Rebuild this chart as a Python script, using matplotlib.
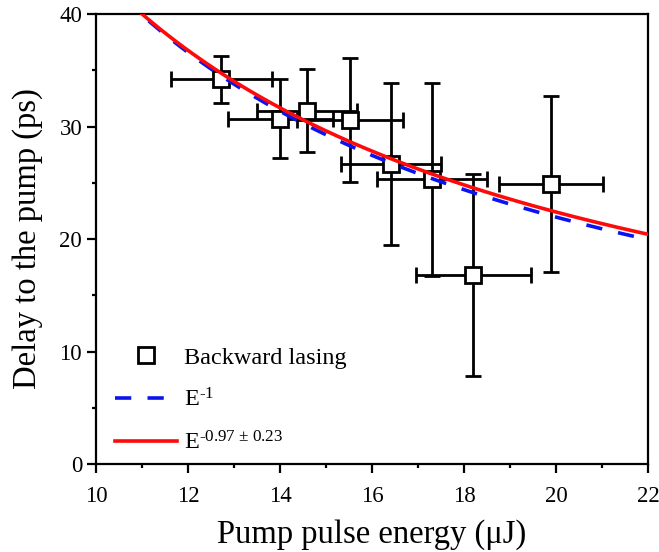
import numpy as np
import matplotlib
matplotlib.use("Agg")
import matplotlib.pyplot as plt
from matplotlib.lines import Line2D

# Data
energy = [12.72, 14.01, 14.58, 15.52, 16.41, 17.30, 18.20, 19.89]
delay = [34.2, 30.7, 31.4, 30.6, 26.7, 25.3, 16.8, 24.9]
energy_err = [1.10, 1.14, 1.09, 1.16, 1.09, 1.20, 1.25, 1.14]
delay_err = [2.1, 3.5, 3.7, 5.5, 7.2, 8.6, 9.0, 7.8]

# Fit parameters
amp_inv = 439.0
amp_fit = 409.5
exp_fit = -0.97

plt.rcParams['font.family'] = ['Liberation Serif', 'DejaVu Serif']
plt.rcParams['mathtext.fontset'] = 'custom'
plt.rcParams['mathtext.rm'] = 'Liberation Serif'
plt.rcParams['mathtext.it'] = 'Liberation Serif'

fig = plt.figure(figsize=(6.59, 5.52), dpi=100)
ax = fig.add_axes([0.1457, 0.1594, 0.8376, 0.8152])

ax.errorbar(energy, delay, xerr=energy_err, yerr=delay_err, fmt='s',
            color='black', ecolor='black', elinewidth=2, capsize=6, capthick=2,
            markersize=12, markerfacecolor='white', markeredgecolor='black',
            markeredgewidth=2, zorder=2)

xs = np.linspace(10, 22, 400)
l_inv, = ax.plot(xs, amp_inv / xs, color='#0a14f0', lw=2.6, dashes=(4.5, 4.5),
                 zorder=3)
l_fit, = ax.plot(xs, amp_fit * xs ** exp_fit, color='#ff0a0a', lw=2.6, zorder=4)

ax.set_xlim(10, 22)
ax.set_ylim(0, 40)
ax.set_xticks(np.arange(10, 23, 2))
ax.set_yticks([0, 10, 20, 30, 40])
ax.set_xticks(np.arange(11, 22, 2), minor=True)
ax.set_yticks([5, 15, 25, 35], minor=True)
ax.tick_params(axis='both', which='major', direction='out', length=6.5, width=1.6,
               labelsize=16.5, top=False, right=False)
ax.tick_params(axis='x', which='major', pad=9)
ax.tick_params(axis='both', which='minor', direction='out', length=3, width=1.6,
               top=False, right=False)
for s in ax.spines.values():
    s.set_linewidth(1.6)

ax.set_xlabel('Pump pulse energy (\u03bcJ)', fontsize=23.5, labelpad=9)
ax.set_ylabel('Delay to the pump (ps)', fontsize=23.5, labelpad=12)

sq = Line2D([], [], linestyle='none', marker='s', markersize=12,
            markerfacecolor='white', markeredgecolor='black', markeredgewidth=2)
labels = ['Backward lasing', 'E$^{\\text{-1}}$',
          'E$^{\\text{-0.97 \u00b1 0.23}}$']
leg = ax.legend([sq, l_inv, l_fit], labels,
                loc='lower left', bbox_to_anchor=(0.017, 0.0), borderaxespad=0,
                frameon=False, fontsize=17.5, handlelength=2.55,
                handletextpad=0.3, labelspacing=0.8)

fig.savefig('out.png', dpi=100)
